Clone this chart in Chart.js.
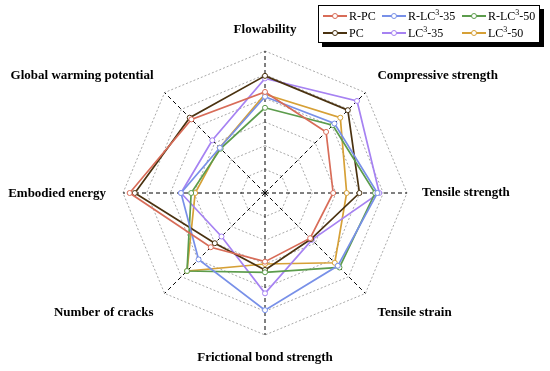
<!DOCTYPE html>
<html>
<head>
<meta charset="utf-8">
<script src="https://cdn.jsdelivr.net/npm/chart.js@4.4.1/dist/chart.umd.min.js"></script>
<style>
  html, body { margin: 0; padding: 0; background: #fff; }
  .wrap { position: relative; width: 550px; height: 371px; }
  .legend {
    position: absolute; left: 318px; top: 5px; width: 220px; height: 36px;
    border: 1px solid #000; box-shadow: 4px 4px 0 #000; background: #fff;
    font-family: "Liberation Serif", "Times New Roman", serif; font-size: 12px; color: #000;
  }
  .legend .item { position: absolute; display: flex; align-items: center; height: 14px; line-height: 14px; white-space: nowrap; }
  .legend .swatch { position: relative; width: 24px; height: 2px; margin-right: 2px; }
  .legend .swatch i {
    position: absolute; left: 9px; top: -2px; width: 4px; height: 4px;
    border: 1px solid; border-radius: 50%; background: #fff;
  }
  .legend sup { font-size: 8px; line-height: 0; }
</style>
</head>
<body>
<div class="wrap">
  <canvas id="radar" width="550" height="371"></canvas>
  <div class="legend" id="legend"></div>
</div>
<script>
const categories = ['Flowability', 'Compressive strength', 'Tensile strength', 'Tensile strain',
  'Frictional bond strength', 'Number of cracks', 'Embodied energy', 'Global warming potential'];

const seriesNames = ['R-PC', 'R-LC<sup>3</sup>-35', 'R-LC<sup>3</sup>-50', 'PC', 'LC<sup>3</sup>-35', 'LC<sup>3</sup>-50'];
const plainNames = ['R-PC', 'R-LC³-35', 'R-LC³-50', 'PC', 'LC³-35', 'LC³-50'];

const rPC    = [4.27, 3.65, 2.88, 2.70, 2.90, 3.24, 5.72, 4.40];
const rLC35  = [4.07, 4.15, 4.75, 4.35, 4.95, 3.97, 3.55, 2.70];
const rLC50  = [3.60, 4.05, 4.65, 4.45, 3.35, 4.66, 3.12, 2.65];
const pc     = [4.95, 4.95, 3.99, 2.75, 3.25, 3.00, 5.50, 4.50];
const lc35   = [4.84, 5.50, 4.83, 2.80, 4.24, 2.60, 3.55, 3.15];
const lc50   = [4.17, 4.50, 3.45, 4.17, 3.00, 4.66, 2.95, 2.71];

const seriesData = [rPC, rLC35, rLC50, pc, lc35, lc50];
const colors = ['#d86c58', '#7890e8', '#5c9c4c', '#4a3210', '#a682f2', '#d6a036'];

// where each axis title sits relative to the outer vertex
const labelPlace = [
  [0, -21, 'center'], [12, -17, 'left'], [15, 0, 'left'], [12, 19, 'left'],
  [0, 23, 'center'], [-11, 19, 'right'], [-17, 1, 'right'], [-11, -17, 'right']
];

const axisTitles = {
  id: 'axisTitles',
  afterDraw(chart) {
    const r = chart.scales.r;
    const ctx = chart.ctx;
    ctx.save();
    ctx.font = 'bold 13px "Liberation Serif", "Times New Roman", serif';
    ctx.fillStyle = '#000';
    ctx.textBaseline = 'middle';
    categories.forEach((c, i) => {
      const p = r.getPointPosition(i, r.drawingArea);
      ctx.textAlign = labelPlace[i][2];
      ctx.fillText(c, p.x + labelPlace[i][0], p.y + labelPlace[i][1]);
    });
    ctx.restore();
  }
};

new Chart(document.getElementById('radar'), {
  type: 'radar',
  data: {
    labels: categories,
    datasets: seriesData.map((d, i) => ({
      label: plainNames[i],
      data: d,
      borderColor: colors[i],
      backgroundColor: 'transparent',
      borderWidth: 1.7,
      fill: false,
      pointRadius: 2.5,
      pointBorderWidth: 1,
      pointBackgroundColor: '#fff',
      pointBorderColor: colors[i],
      tension: 0
    }))
  },
  options: {
    responsive: false,
    animation: false,
    layout: { padding: { left: 123, right: 143, top: 51, bottom: 36 } },
    plugins: { legend: { display: false }, tooltip: { enabled: false } },
    scales: {
      r: {
        min: 0,
        max: 6,
        ticks: { stepSize: 1, display: false },
        pointLabels: { display: false },
        grid: { color: '#a8a8a8', lineWidth: 1 },
        border: { dash: [2, 2] },
        angleLines: { color: '#000', lineWidth: 1, borderDash: [4, 3] }
      }
    }
  },
  plugins: [axisTitles]
});

// legend
const legend = document.getElementById('legend');
const legendPos = [[4, 3], [63, 3], [143, 3], [4, 20], [63, 20], [143, 20]];
seriesNames.forEach((n, i) => {
  const el = document.createElement('div');
  el.className = 'item';
  el.style.left = legendPos[i][0] + 'px';
  el.style.top = legendPos[i][1] + 'px';
  el.innerHTML = '<span class="swatch" style="background:' + colors[i] + '"><i style="border-color:' +
    colors[i] + '"></i></span><span>' + n + '</span>';
  legend.appendChild(el);
});
</script>
</body>
</html>
